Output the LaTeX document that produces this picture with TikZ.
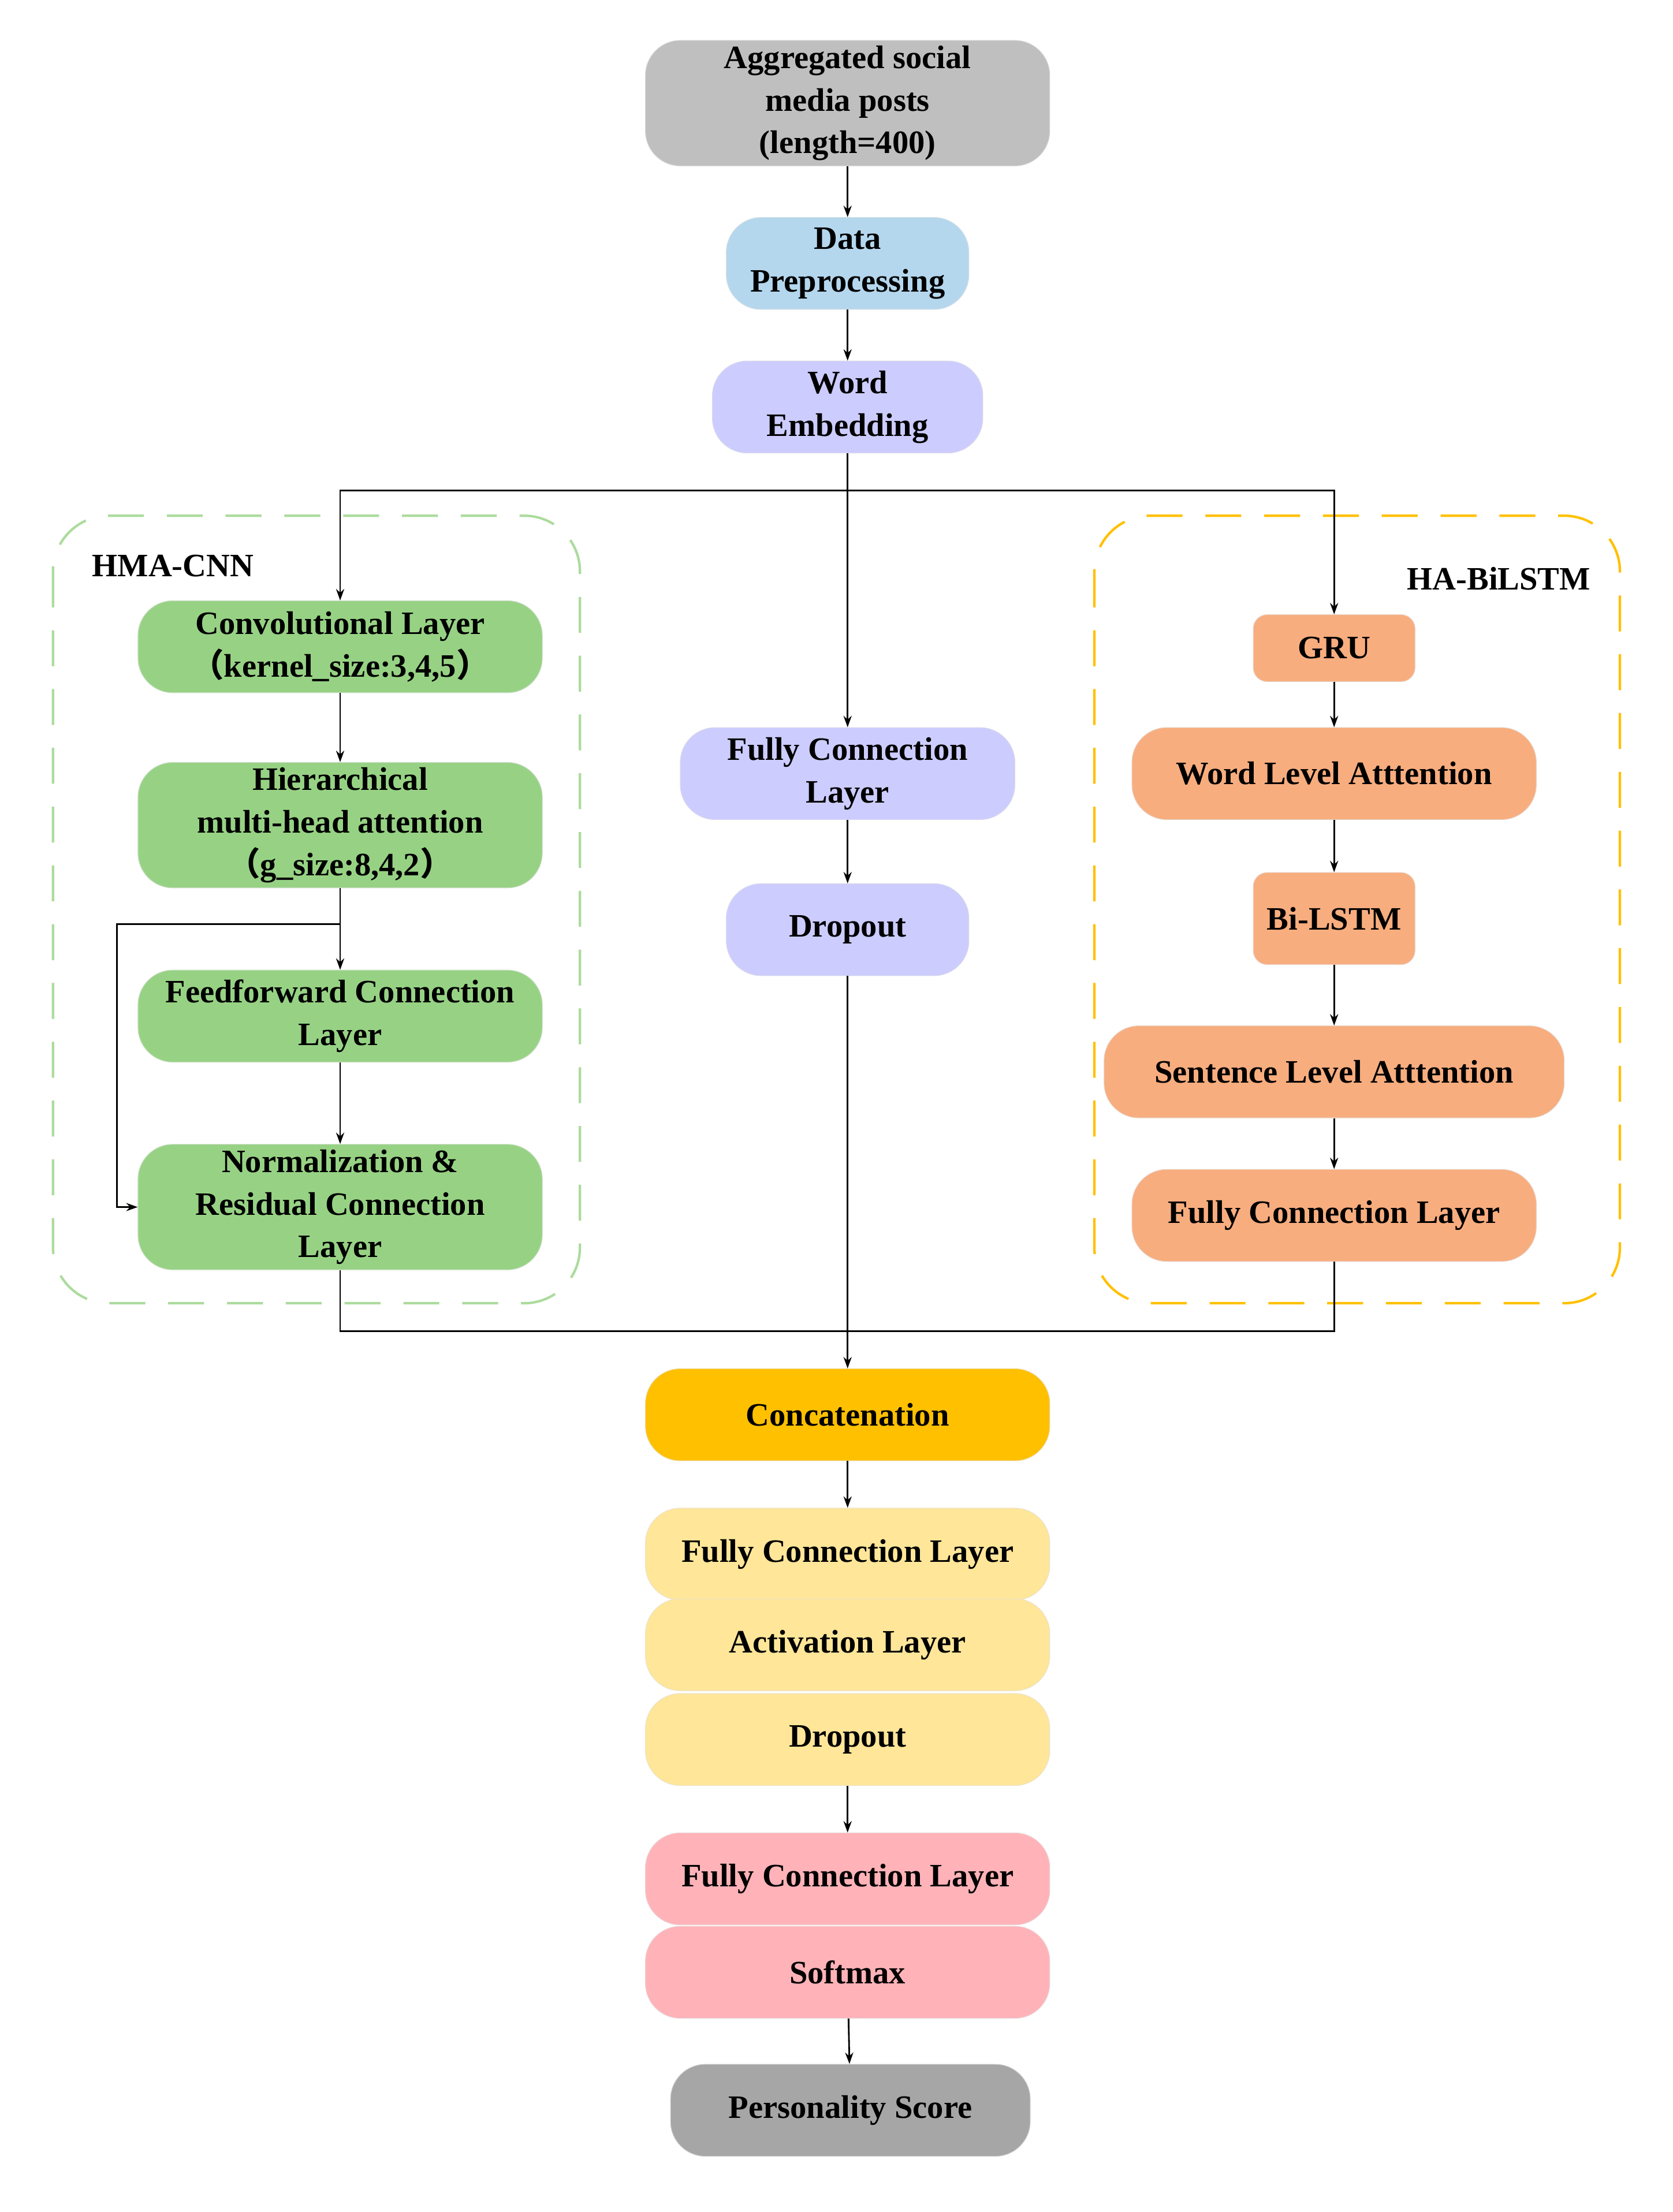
\documentclass[tikz,border=0pt]{standalone}
\usepackage{fontspec}
\setmainfont{Liberation Serif}
\newfontfamily\cjk{Noto Sans CJK SC}
\usetikzlibrary{arrows.meta}
\definecolor{cgray}{HTML}{BFBFBF}
\definecolor{cblue}{HTML}{B4D7EE}
\definecolor{clav}{HTML}{CCCCFF}
\definecolor{cgreen}{HTML}{97D284}
\definecolor{corange}{HTML}{F8AD7E}
\definecolor{cgold}{HTML}{FFC000}
\definecolor{cyel}{HTML}{FFE699}
\definecolor{cpink}{HTML}{FFB3B8}
\definecolor{cdgray}{HTML}{A6A6A6}
\begin{document}
\begin{tikzpicture}[x=0.03cm,y=-0.03cm,
  box/.style={draw=#1!80!black!40,fill=#1,rounded corners=0.75cm,align=center,
     font=\fontsize{20}{26}\selectfont\bfseries,inner sep=0pt,line width=0.4pt},
  h/.style={minimum height=1.98cm},
  H/.style={minimum height=2.7cm},
  arr/.style={-{Stealth[length=7pt,width=5pt]},line width=1pt},
  ln/.style={line width=1pt},
  grp/.style={dashed,dash pattern=on 22pt off 14pt,line width=1.5pt,rounded corners=1.2cm}]
\useasboundingbox (0,0) rectangle (1200,1587);
\draw[grp,draw=cgreen!80] (38,370) rectangle (416,935);
\draw[grp,draw=cgold] (785,370) rectangle (1162,935);
\node[font=\fontsize{20}{24}\selectfont\bfseries,anchor=west] (lh) at (62,406) {HMA-CNN};
\node[font=\fontsize{20}{24}\selectfont\bfseries,anchor=east] (lb) at (1145,415) {HA-BiLSTM};

\node[box=cgray,minimum width=8.7cm,H] (agg) at (608,74) {Aggregated social\\media posts\\(length=400)};
\node[box=cblue,minimum width=5.22cm,h] (data) at (608,189) {Data\\Preprocessing};
\node[box=clav,minimum width=5.82cm,h] (word) at (608,292) {Word\\Embedding};

\node[box=cgreen,minimum width=8.7cm,h] (conv) at (244,464) {Convolutional Layer\\{\cjk （}kernel\_size:3,4,5{\cjk ）}};
\node[box=cgreen,minimum width=8.7cm,H] (hier) at (244,592) {Hierarchical\\multi-head attention\\{\cjk （}g\_size:8,4,2{\cjk ）}};
\node[box=cgreen,minimum width=8.7cm,h] (ff) at (244,729) {Feedforward Connection\\Layer};
\node[box=cgreen,minimum width=8.7cm,H] (norm) at (244,866) {Normalization \&\\Residual Connection\\Layer};

\node[box=clav,minimum width=7.2cm,h] (fcm) at (608,555) {Fully Connection\\Layer};
\node[box=clav,minimum width=5.22cm,h] (dropm) at (608,667) {Dropout};

\node[box=corange,minimum width=3.48cm,minimum height=1.44cm,rounded corners=0.3cm] (gru) at (957,465) {GRU};
\node[box=corange,minimum width=8.7cm,h] (wla) at (957,555) {Word Level Atttention};
\node[box=corange,minimum width=3.48cm,h,rounded corners=0.3cm] (bil) at (957,659) {Bi-LSTM};
\node[box=corange,minimum width=9.9cm,h] (sla) at (957,769) {Sentence Level Atttention};
\node[box=corange,minimum width=8.7cm,h] (fcr) at (957,872) {Fully Connection Layer};

\node[box=cgold,minimum width=8.7cm,h] (cat) at (608,1015) {Concatenation};
\node[box=cyel,minimum width=8.7cm,h] (fc1) at (608,1115) {Fully Connection Layer};
\node[box=cyel,minimum width=8.7cm,h] (act) at (608,1180) {Activation Layer};
\node[box=cyel,minimum width=8.7cm,h] (dr2) at (608,1248) {Dropout};
\node[box=cpink,minimum width=8.7cm,h] (fc2) at (608,1348) {Fully Connection Layer};
\node[box=cpink,minimum width=8.7cm,h] (soft) at (608,1415) {Softmax};
\node[box=cdgray,minimum width=7.74cm,h] (ps) at (610,1514) {Personality Score};

\coordinate (s1) at (608,352);
\coordinate (b) at (608,955);
\coordinate (r) at (244,663);
\coordinate (rl) at (84,663);

\draw[arr] (agg) -- (data);
\draw[arr] (data) -- (word);
\draw[ln] (word.south) -- (s1);
\draw[arr] (s1) -| (conv.north);
\draw[arr] (s1) -| (gru.north);
\draw[arr] (s1) -- (fcm.north);
\draw[arr] (conv) -- (hier);
\draw[arr] (hier) -- (ff);
\draw[arr] (ff) -- (norm);
\draw[arr] (r) -- (rl) |- (norm.west);
\draw[arr] (fcm) -- (dropm);
\draw[arr] (gru) -- (wla);
\draw[arr] (wla) -- (bil);
\draw[arr] (bil) -- (sla);
\draw[arr] (sla) -- (fcr);
\draw[ln] (norm.south) |- (b);
\draw[ln] (fcr.south) |- (b);
\draw[arr] (dropm.south) -- (cat.north);
\draw[arr] (cat) -- (fc1);
\draw[arr] (dr2) -- (fc2);
\draw[arr] (soft) -- (ps);
\end{tikzpicture}
\end{document}
